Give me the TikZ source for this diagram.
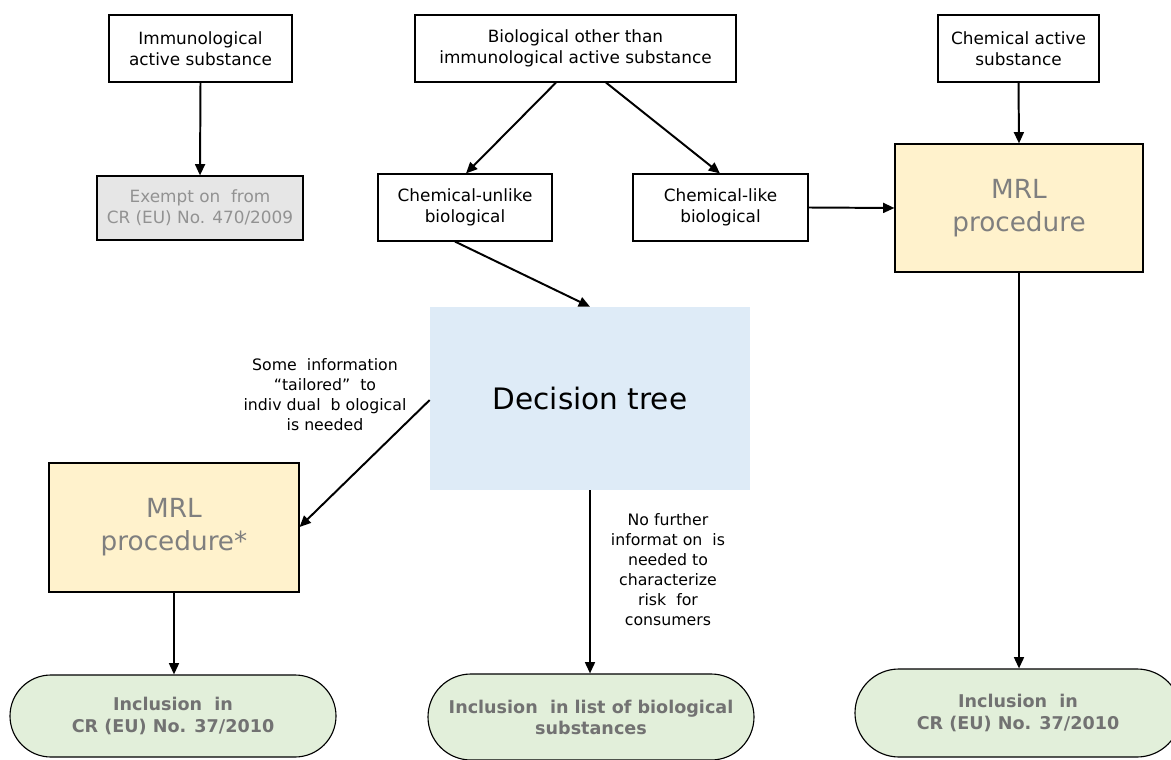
\documentclass[tikz,border=0pt]{standalone}
\usepackage{fontspec}
\setmainfont{DejaVu Sans}
\usetikzlibrary{arrows.meta,shapes.misc}
\definecolor{mrlfill}{HTML}{FFF2CC}
\definecolor{dtfill}{HTML}{DEEBF7}
\definecolor{inclfill}{HTML}{E2EFDA}
\definecolor{exfill}{HTML}{E6E6E6}
\definecolor{graytext}{HTML}{7F7F7F}
\tikzset{
  box/.style={draw=black, line width=0.8pt, fill=white, align=center, inner sep=0pt, font=\fontsize{12}{15}\selectfont},
  exbox/.style={box, fill=exfill, text=graytext!85},
  mrl/.style={draw=black, line width=0.8pt, fill=mrlfill, align=center, inner sep=0pt, text=graytext, font=\fontsize{18.7}{23.4}\selectfont},
  dt/.style={fill=dtfill, align=center, inner sep=0pt, font=\fontsize{21}{25}\selectfont},
  incl/.style={draw=black, line width=0.8pt, fill=inclfill, rounded rectangle, align=center, inner sep=0pt, text=graytext!90!black, font=\bfseries\fontsize{12.5}{15}\selectfont},
  lbl/.style={align=center, inner sep=0pt, font=\fontsize{11.2}{14.2}\selectfont},
  arr/.style={line width=1.4pt, -{Triangle[length=8pt,width=7pt]}},
}
\begin{document}
\begin{tikzpicture}[x=0.025cm, y=-0.025cm]
\clip (0,0) rectangle (1171,760);
\fill[white] (0,0) rectangle (1171,760);
% top row
\node[box, minimum width=183*0.025cm, minimum height=67*0.025cm] (imm) at (200.5,48.5) {Immunological\\active substance};
\node[box, minimum width=321*0.025cm, minimum height=67*0.025cm] (bio) at (575.5,48.5) {Biological other than\\immunological active substance};
\node[box, minimum width=161*0.025cm, minimum height=67*0.025cm] (chem) at (1018.5,48.5) {Chemical active\\substance};
% second row
\node[exbox, minimum width=206*0.025cm, minimum height=64*0.025cm] (ex) at (200,208) {Exempt on\ \ from\\CR (EU) No. 470/2009};
\node[box, minimum width=174*0.025cm, minimum height=67*0.025cm] (unlike) at (465,207.5) {Chemical-unlike\\biological};
\node[box, minimum width=175*0.025cm, minimum height=67*0.025cm] (like) at (720.5,207.5) {Chemical-like\\biological};
\node[mrl, minimum width=248*0.025cm, minimum height=128*0.025cm] (mrlr) at (1019,208) {MRL\\procedure};
% decision tree
\node[dt, minimum width=320*0.025cm, minimum height=183*0.025cm] (dt) at (590,398.5) {Decision tree};
\node[mrl, minimum width=250*0.025cm, minimum height=129*0.025cm] (mrll) at (174,527.5) {MRL\\procedure*};
% bottom
\node[incl, minimum width=326*0.025cm, minimum height=82*0.025cm] (incl1) at (173,716) {Inclusion\ \ in\\CR (EU) No. 37/2010};
\node[incl, minimum width=326*0.025cm, minimum height=86*0.025cm] (incl2) at (591,717) {Inclusion\ \ in list of biological\\substances};
\node[incl, minimum width=326*0.025cm, minimum height=88*0.025cm] (incl3) at (1018,713) {Inclusion\ \ in\\CR (EU) No. 37/2010};
% labels
\node[lbl] (l1) at (325,395) {Some\ \ information\\“tailored”\ \ to\\indiv dual\ \ b ological\\is needed};
\node[lbl] (l2) at (668,570) {No further\\informat on\ \ is\\needed to\\characterize\\risk\ \ for\\consumers};
% arrows
\draw[arr] (imm.south) -- (ex.north);
\draw[arr] (bio.south -| 556,0) -- (unlike.north -| 466,0);
\draw[arr] (bio.south -| 606,0) -- (like.north -| 720,0);
\draw[arr] (chem.south) -- (mrlr.north);
\draw[arr] (like.east) -- (mrlr.west);
\draw[arr] (unlike.south -| 455,0) -- (dt.north -| 590,0);
\draw[arr] (dt.west |- 0,400) -- (mrll.east |- 0,527);
\draw[arr] (dt.south) -- (incl2.north -| dt.south);
\draw[arr] (mrll.south) -- (incl1.north -| mrll.south);
\draw[arr] (mrlr.south) -- (incl3.north -| mrlr.south);
\end{tikzpicture}
\end{document}
